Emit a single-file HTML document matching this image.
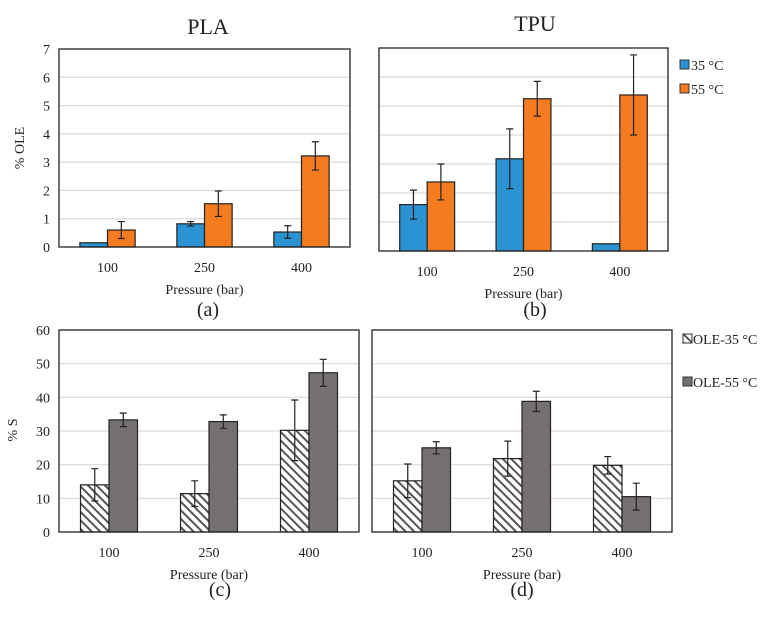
<!DOCTYPE html>
<html><head><meta charset="utf-8"><style>
body{margin:0;background:#fff;}
svg text{font-family:"Liberation Serif",serif;fill:#222;}
</style></head><body>
<svg id="s" width="767" height="612" viewBox="0 0 767 612" xmlns="http://www.w3.org/2000/svg">
<defs>
<pattern id="hatch" patternUnits="userSpaceOnUse" width="6" height="6" patternTransform="rotate(-45)">
<rect width="6" height="6" fill="#fff"/><rect width="2" height="6" fill="#555"/>
</pattern>
</defs>
<text x="208" y="34" font-size="22" text-anchor="middle">PLA</text>
<text x="535" y="31" font-size="22" text-anchor="middle">TPU</text>
<text x="208" y="316" font-size="20" text-anchor="middle">(a)</text>
<text x="535" y="316" font-size="20" text-anchor="middle">(b)</text>
<text x="220" y="596" font-size="20" text-anchor="middle">(c)</text>
<text x="522" y="596" font-size="20" text-anchor="middle">(d)</text>
<text transform="translate(24,148) rotate(-90)" font-size="14" text-anchor="middle">% OLE</text>
<text transform="translate(17,430) rotate(-90)" font-size="14" text-anchor="middle">% S</text>
<g>
<rect x="680" y="60" width="9" height="9" fill="#2b93d1" stroke="#333" stroke-width="1"/>
<text x="691" y="70" font-size="14">35 °C</text>
<rect x="680" y="84" width="9" height="9" fill="#f47b20" stroke="#333" stroke-width="1"/>
<text x="691" y="94" font-size="14">55 °C</text>
</g>
<g>
<rect x="683" y="334" width="9" height="9" fill="url(#hatch)" stroke="#333" stroke-width="1"/>
<text x="693" y="344" font-size="14">OLE-35 °C</text>
<rect x="683" y="377" width="9" height="9" fill="#767171" stroke="#333" stroke-width="1"/>
<text x="693" y="387" font-size="14">OLE-55 °C</text>
</g>
</svg>
<script>
const categories = ["100","250","400"];
const aVals1 = [0.15,0.82,0.53], aErr1 = [0,0.08,0.22];
const aVals2 = [0.6,1.53,3.22], aErr2 = [0.3,0.45,0.5];
const bVals1 = [1.6,3.18,0.25], bErr1 = [0.5,1.03,0];
const bVals2 = [2.38,5.25,5.38], bErr2 = [0.62,0.6,1.38];
const cVals1 = [14,11.4,30.2], cErr1 = [4.8,3.8,9];
const cVals2 = [33.3,32.8,47.3], cErr2 = [2,2,4];
const dVals1 = [15.2,21.8,19.8], dErr1 = [5,5.2,2.6];
const dVals2 = [25,38.8,10.5], dErr2 = [1.8,3,4];
const ticksOle = [0,1,2,3,4,5,6,7];
const ticksS = [0,10,20,30,40,50,60];

const svg = document.getElementById('s');
const NS = "http://www.w3.org/2000/svg";
function mk(tag, attrs, parent){
  const e = document.createElementNS(NS, tag);
  for (const k in attrs) e.setAttribute(k, attrs[k]);
  (parent||svg).appendChild(e); return e;
}
function panel(id, x0, x1, y0, y1, ymax, ticks, showTicks, s1, e1, s2, e2, f1, f2){
  const g = mk('g', {});
  
  
  const ys = v => y1 - (v / ymax) * (y1 - y0);
  const gw = (x1 - x0) / categories.length;
  const bw = gw * 0.285;
  ticks.forEach(t => {
    if (t > 0 && t < ymax) {
      const l = mk('line', {x1:x0, x2:x1, y1:ys(t), y2:ys(t), stroke:'#d9d9d9', 'stroke-width':1.2}, g);
      
      
    }
    if (showTicks) {
      const tx = mk('text', {x:x0-9, y:ys(t)+5, 'font-size':14, 'text-anchor':'end'}, g);
      tx.textContent = t;
      
      
    }
  });
  categories.forEach((c, i) => {
    const cx = x0 + gw * (i + 0.5);
    [[s1,e1,f1,-1],[s2,e2,f2,0]].forEach(([s,e,f,off], k) => {
      const bx = cx + off * bw;
      const r = mk('rect', {x:bx, y:ys(s[i]), width:bw, height:ys(0)-ys(s[i]), fill:f, stroke:'#222', 'stroke-width':1.2}, g);
      
      
      if (e[i] > 0) {
        const m = bx + bw/2;
        const p = mk('path', {d:`M${m},${ys(s[i]+e[i])}V${ys(s[i]-e[i])}M${m-3.5},${ys(s[i]+e[i])}h7M${m-3.5},${ys(s[i]-e[i])}h7`, stroke:'#222', 'stroke-width':1.2, fill:'none'}, g);
        
        
      }
    });
    const lt = mk('text', {x:cx, y:y1+25, 'font-size':14, 'text-anchor':'middle'}, g);
    lt.textContent = c;
    
    
  });
  const fr = mk('rect', {x:x0, y:y0, width:x1-x0, height:y1-y0, fill:'none', stroke:'#222', 'stroke-width':1.3}, g);
  
  
  const xt = mk('text', {x:(x0+x1)/2, y:y1+47, 'font-size':14, 'text-anchor':'middle'}, g);
  xt.textContent = 'Pressure (bar)';
  
  
}
panel('a', 59, 350, 49, 247, 7, ticksOle, true, aVals1, aErr1, aVals2, aErr2, '#2b93d1', '#f47b20');
panel('b', 379, 668, 48, 251, 7, ticksOle, false, bVals1, bErr1, bVals2, bErr2, '#2b93d1', '#f47b20');
panel('c', 59, 359, 330, 532, 60, ticksS, true, cVals1, cErr1, cVals2, cErr2, 'url(#hatch)', '#767171');
panel('d', 372, 672, 330, 532, 60, ticksS, false, dVals1, dErr1, dVals2, dErr2, 'url(#hatch)', '#767171');
</script>
</body></html>
